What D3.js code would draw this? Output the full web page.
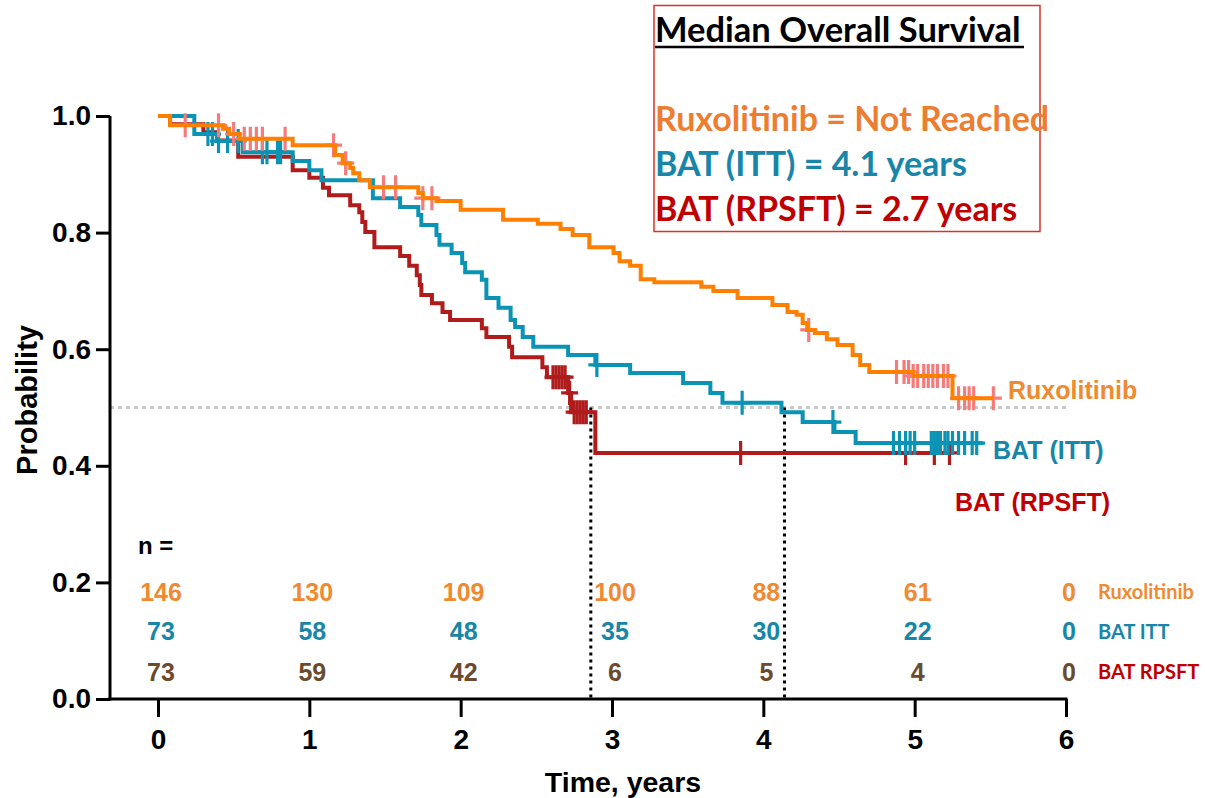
<!DOCTYPE html>
<html>
<head>
<meta charset="utf-8">
<script src="https://cdn.jsdelivr.net/npm/d3@7"></script>
<style>
  html, body { margin: 0; padding: 0; background: #fff; }
  svg { display: block; }
</style>
</head>
<body>
<svg id="chart" width="1205" height="798"></svg>
<script>
// Kaplan–Meier step points [time in years, survival probability]
const ruxSteps = [[0,1.0],[0.08,0.984],[0.43,0.978],[0.47,0.969],[0.54,0.961],[0.89,0.950],[1.17,0.933],[1.22,0.919],[1.27,0.911],[1.29,0.902],[1.33,0.890],[1.40,0.878],[1.72,0.868],[1.75,0.859],[1.84,0.854],[2.00,0.839],[2.28,0.822],[2.51,0.815],[2.66,0.806],[2.74,0.796],[2.85,0.775],[3.01,0.765],[3.05,0.751],[3.12,0.743],[3.19,0.720],[3.28,0.715],[3.59,0.707],[3.67,0.700],[3.83,0.688],[4.06,0.676],[4.16,0.664],[4.22,0.659],[4.26,0.645],[4.29,0.633],[4.34,0.628],[4.42,0.617],[4.49,0.607],[4.59,0.590],[4.64,0.573],[4.70,0.561],[4.99,0.554],[5.25,0.516]];
const ruxEnd = 5.52;
const ruxCensor = [0.18,0.40,0.50,0.57,0.61,0.65,0.69,0.84,1.16,1.24,1.49,1.57,1.75,1.81,4.30,4.88,4.93,4.96,4.99,5.02,5.06,5.09,5.12,5.15,5.19,5.22,5.29,5.33,5.36,5.39,5.52];

const ittSteps = [[0,1.0],[0.24,0.969],[0.39,0.957],[0.56,0.938],[0.89,0.923],[1.00,0.907],[1.08,0.890],[1.42,0.859],[1.60,0.844],[1.72,0.830],[1.74,0.813],[1.84,0.796],[1.86,0.779],[1.94,0.765],[2.01,0.748],[2.03,0.732],[2.14,0.719],[2.17,0.688],[2.25,0.671],[2.33,0.650],[2.36,0.638],[2.41,0.621],[2.48,0.604],[2.71,0.590],[2.89,0.573],[3.12,0.559],[3.47,0.542],[3.65,0.525],[3.73,0.508],[4.12,0.492],[4.26,0.475],[4.47,0.458],[4.61,0.439]];
const ittEnd = 5.45;
const ittCensor = [0.33,0.36,0.40,0.46,0.53,0.69,0.72,0.79,0.81,2.90,3.86,4.46,4.86,4.90,4.94,4.97,5.00,5.11,5.13,5.15,5.17,5.20,5.22,5.25,5.29,5.33,5.38,5.41];

const rpsSteps = [[0,1.0],[0.08,0.986],[0.30,0.972],[0.39,0.958],[0.53,0.930],[0.89,0.907],[1.00,0.894],[1.09,0.877],[1.13,0.864],[1.27,0.847],[1.33,0.835],[1.35,0.818],[1.37,0.801],[1.43,0.775],[1.60,0.760],[1.66,0.743],[1.71,0.727],[1.73,0.710],[1.74,0.693],[1.81,0.679],[1.88,0.664],[1.93,0.650],[2.14,0.636],[2.17,0.621],[2.32,0.604],[2.34,0.586],[2.54,0.569],[2.57,0.552],[2.71,0.525],[2.73,0.492],[2.89,0.422]];
const rpsEnd = 5.23;
const rpsCensor = [2.61,2.63,2.65,2.67,2.69,2.72,2.75,2.77,2.79,2.81,2.83,3.85,4.94,5.13,5.23];

// Median reference: 50% line and median times (RPSFT, ITT)
const medianLevel = 0.5;
const medianTimes = [2.86, 4.14];

// Numbers at risk
const riskTimes = [0,1,2,3,4,5,6];
const ruxRisk = [146,130,109,100,88,61,0];
const ittRisk = [73,58,48,35,30,22,0];
const rpsRisk = [73,59,42,6,5,4,0];
const riskRowNames = ["Ruxolitinib", "BAT ITT", "BAT RPSFT"];

// Axis ticks
const xTicks = [0,1,2,3,4,5,6];
const yTicks = [0,0.2,0.4,0.6,0.8,1.0];

// Summary box lines
const boxTitle = "Median Overall Survival";
const boxLines = ["Ruxolitinib = Not Reached", "BAT (ITT) = 4.1 years", "BAT (RPSFT) = 2.7 years"];
const curveLabels = ["Ruxolitinib", "BAT (ITT)", "BAT (RPSFT)"];

const svg = d3.select("#chart");
const ARIAL = "'Liberation Sans', Arial, sans-serif";
const CAL = "Lato, 'Open Sans', sans-serif";

const x = d3.scaleLinear().domain([0, 6]).range([158, 1066]);
const y = d3.scaleLinear().domain([0, 1]).range([699, 116]);
const axisX0 = 110;

const C = {
  rux: "#ff8000", ruxCensor: "#f47c7c", ruxText: "#f08a30",
  itt: "#0a93b5", ittText: "#1786a8",
  rps: "#b01c1c", rpsText: "#c00000", rpsRisk: "#6b4a2e"
};

// Reference line at 50%
svg.append("line")
  .attr("x1", axisX0).attr("x2", x(6.01))
  .attr("y1", y(medianLevel)).attr("y2", y(medianLevel))
  .attr("stroke", "#c8c8c8").attr("stroke-width", 3)
  .attr("stroke-dasharray", "4,4");

// Vertical median markers
svg.selectAll("line.median").data(medianTimes).join("line")
  .attr("class", "median")
  .attr("x1", d => x(d)).attr("x2", d => x(d))
  .attr("y1", y(medianLevel)).attr("y2", y(0))
  .attr("stroke", "#000").attr("stroke-width", 3)
  .attr("stroke-dasharray", "3,4");

function levelAt(steps, t) {
  let v = steps[0][1];
  for (const s of steps) { if (s[0] <= t + 1e-9) v = s[1]; else break; }
  return v;
}

const stepLine = d3.line().x(d => x(d[0])).y(d => y(d[1])).curve(d3.curveStepAfter);

function drawSeries(steps, end, censor, lineColor, censorColor) {
  const g = svg.append("g");
  const pts = steps.concat([[end, steps[steps.length - 1][1]]]);
  const cg = g.append("g");
  const marks = censor.map(t => [t, levelAt(steps, t)]);
  cg.selectAll("path").data(marks).join("path")
    .attr("d", d => {
      const cx = x(d[0]), cy = y(d[1]);
      return `M${cx},${cy - 12}V${cy + 12}M${cx - 8.5},${cy}H${cx + 8.5}`;
    })
    .attr("stroke", censorColor).attr("stroke-width", 3.2).attr("fill", "none");
  g.append("path").datum(pts).attr("d", stepLine)
    .attr("fill", "none").attr("stroke", lineColor).attr("stroke-width", 4);
}

drawSeries(rpsSteps, rpsEnd, rpsCensor, C.rps, C.rps);
drawSeries(ittSteps, ittEnd, ittCensor, C.itt, C.itt);
drawSeries(ruxSteps, ruxEnd, ruxCensor, C.rux, C.ruxCensor);

// Axes
const yAxis = d3.axisLeft(y).tickValues(yTicks).tickFormat(d3.format(".1f")).tickSize(14).tickPadding(5);
const gy = svg.append("g").attr("transform", `translate(${axisX0},0)`).call(yAxis);
gy.select(".domain").remove();
gy.selectAll(".tick line").attr("stroke", "#000").attr("stroke-width", 3);
gy.selectAll(".tick text").attr("font-family", ARIAL).attr("font-weight", "bold")
  .attr("font-size", 28).attr("fill", "#000");
svg.append("line").attr("x1", axisX0).attr("x2", axisX0)
  .attr("y1", y(1)).attr("y2", y(0) + 1.5).attr("stroke", "#000").attr("stroke-width", 3);

const xAxis = d3.axisBottom(x).tickValues(xTicks).tickFormat(d3.format("d")).tickSize(18).tickPadding(12);
const gx = svg.append("g").attr("transform", `translate(0,${y(0)})`).call(xAxis);
gx.select(".domain").remove();
gx.selectAll(".tick line").attr("stroke", "#000").attr("stroke-width", 3);
gx.selectAll(".tick text").attr("font-family", ARIAL).attr("font-weight", "bold")
  .attr("font-size", 28).attr("fill", "#000");
svg.append("line").attr("x1", axisX0 - 1.5).attr("x2", x(6) + 1.5)
  .attr("y1", y(0)).attr("y2", y(0)).attr("stroke", "#000").attr("stroke-width", 3);

// Axis titles
svg.append("text").attr("x", 623).attr("y", 792)
  .attr("text-anchor", "middle").attr("font-family", ARIAL).attr("font-weight", "bold")
  .attr("font-size", 28.5).text("Time, years");
svg.append("text").attr("transform", "translate(37,400) rotate(-90)")
  .attr("text-anchor", "middle").attr("font-family", ARIAL).attr("font-weight", "bold")
  .attr("font-size", 29).text("Probability");

// Numbers at risk
svg.append("text").attr("x", 138).attr("y", 554)
  .attr("font-family", ARIAL).attr("font-weight", "bold").attr("font-size", 24).text("n =");
const riskRows = [
  { vals: ruxRisk, color: C.ruxText, yv: 0.184, name: riskRowNames[0], nameColor: C.ruxText },
  { vals: ittRisk, color: C.ittText, yv: 0.116, name: riskRowNames[1], nameColor: C.ittText },
  { vals: rpsRisk, color: C.rpsRisk, yv: 0.047, name: riskRowNames[2], nameColor: C.rpsText }
];
riskRows.forEach(r => {
  svg.append("g").selectAll("text").data(r.vals).join("text")
    .attr("x", (d, i) => x(riskTimes[i]) + 3)
    .attr("y", y(r.yv))
    .attr("dy", "0.36em")
    .attr("text-anchor", "middle")
    .attr("font-family", ARIAL).attr("font-weight", "bold").attr("font-size", 25)
    .attr("fill", r.color).text(d => d);
  svg.append("text").attr("x", 1098).attr("y", y(r.yv)).attr("dy", "0.36em")
    .attr("font-family", CAL).attr("font-weight", "bold").attr("font-size", 20)
    .attr("fill", r.nameColor).text(r.name);
});

// Curve labels
const labelPos = [[1008, 390, C.ruxText], [993, 450, C.ittText], [955, 502, C.rpsText]];
curveLabels.forEach((t, i) => {
  svg.append("text").attr("x", labelPos[i][0]).attr("y", labelPos[i][1]).attr("dy", "0.36em")
    .attr("font-family", ARIAL).attr("font-weight", "bold").attr("font-size", 25)
    .attr("fill", labelPos[i][2]).text(t);
});

// Summary box
svg.append("rect").attr("x", 654).attr("y", 5.5).attr("width", 386).attr("height", 226)
  .attr("fill", "none").attr("stroke", "#d6342a").attr("stroke-width", 1.5);
svg.append("text").attr("x", 655).attr("y", 42)
  .attr("font-family", CAL).attr("font-weight", "bold").attr("font-size", 34.5)
  .attr("fill", "#000").text(boxTitle);
svg.append("line").attr("x1", 655).attr("x2", 1024).attr("y1", 47).attr("y2", 47)
  .attr("stroke", "#000").attr("stroke-width", 2.5);
const boxColors = ["#ed7d31", "#1786a8", "#c00000"];
const boxY = [131, 176, 221];
boxLines.forEach((t, i) => {
  svg.append("text").attr("x", 655).attr("y", boxY[i])
    .attr("font-family", CAL).attr("font-weight", "bold").attr("font-size", 34)
    .attr("fill", boxColors[i]).text(t);
});
</script>
</body>
</html>
